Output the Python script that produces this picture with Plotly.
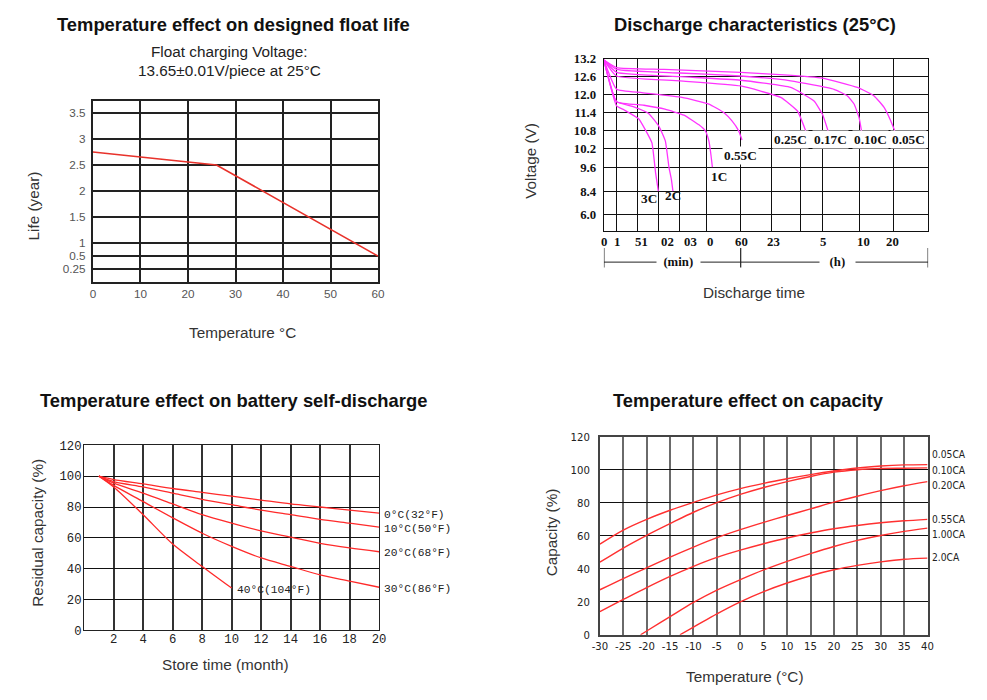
import plotly.graph_objects as go

W, H = 987, 700
# the photographed page shows the figure inside the browser's 8px body margin, shrunk to fit;
# layout positions below are given in target picture pixels and converted through this.
PAGE_M = 8
SX, SY = (W + 2 * PAGE_M) / W, (H + 2 * PAGE_M) / H
FS = 1.02  # font compensation for the shrink

# ---------------- Chart 1: float life ----------------
float_temp = [0, 26, 60]
float_life = [2.75, 2.5, 0.5]
life_ticks = [0.25, 0.5, 1, 1.5, 2, 2.5, 3, 3.5]
life_tick_labels = ["0.25", "0.5", "1", "1.5", "2", "2.5", "3", "3.5"]
float_x_ticks = [0, 10, 20, 30, 40, 50, 60]

# ---------------- Chart 2: discharge characteristics ----------------
volt_ticks = [13.2, 12.6, 12.0, 11.4, 10.8, 10.2, 9.6, 8.4, 6.0]
volt_tick_labels = ["13.2", "12.6", "12.0", "11.4", "10.8", "10.2", "9.6", "8.4", "6.0"]
time_grid = [0, 12.7, 33.4, 54.4, 76, 102.7, 136.7, 167, 196, 218.4, 255, 289.4, 324]
time_tick_pos = [0, 13.4, 37.4, 64, 86.7, 106, 137.4, 169.4, 219.4, 259.4, 288.4]
time_tick_labels = ["0", "1", "51", "02", "03", "0", "60", "23", "5", "10", "20"]

t_005 = [0, 12.7, 60, 136.7, 180, 218.4, 253.4, 270, 280, 286.7, 290.7]
v_005 = [13.15, 12.90, 12.84, 12.74, 12.66, 12.55, 12.24, 11.96, 11.58, 11.13, 10.80]
t_010 = [0, 12.7, 76, 136.7, 186.7, 230, 243.4, 250, 255, 257.4]
v_010 = [13.15, 12.84, 12.72, 12.62, 12.46, 12.18, 11.96, 11.69, 11.24, 10.80]
t_017 = [0, 12.7, 76, 136.7, 186.7, 210, 218.4, 224]
v_017 = [13.15, 12.74, 12.60, 12.48, 12.24, 11.79, 11.35, 10.80]
t_025 = [0, 12.7, 76, 136.7, 176.7, 193.4, 201.7]
v_025 = [13.15, 12.62, 12.46, 12.29, 11.91, 11.46, 10.80]
t_055 = [0, 12.7, 38, 78, 105, 120, 128, 134.7, 138]
v_055 = [13.15, 12.18, 12.07, 11.91, 11.69, 11.40, 11.13, 10.80, 10.50]
t_1c = [0, 12.7, 40, 61, 80, 95, 101.4, 105, 107, 108.4]
v_1c = [13.15, 11.77, 11.65, 11.52, 11.32, 11.0, 10.80, 10.45, 10.0, 9.60]
t_2c = [0, 12.7, 30, 44.7, 55, 61.4, 65, 67.4, 69]
v_2c = [13.15, 11.77, 11.6, 11.38, 10.95, 10.47, 9.6, 9.0, 8.40]
t_3c = [0, 12.7, 20, 34.7, 42, 48, 51.7, 54.4]
v_3c = [13.15, 11.63, 11.5, 11.2, 10.8, 10.4, 9.3, 8.40]
dis_series = [("0.05C", t_005, v_005), ("0.10C", t_010, v_010), ("0.17C", t_017, v_017),
              ("0.25C", t_025, v_025), ("0.55C", t_055, v_055), ("1C", t_1c, v_1c),
              ("2C", t_2c, v_2c), ("3C", t_3c, v_3c)]
dis_label_text = ["3C", "2C", "1C", "0.55C", "0.25C", "0.17C", "0.10C", "0.05C"]
dis_label_t = [44.7, 69.2, 114.7, 136.7, 186.7, 226.2, 266.9, 304.2]
dis_label_v = [7.62, 7.9, 9.15, 9.97, 10.52, 10.52, 10.52, 10.52]

# ---------------- Chart 3: self-discharge ----------------
sd_months = [1, 2, 4, 6, 8, 10, 12, 14, 16, 18, 20]
sd_0 = [100, 97.8, 95, 92, 89.5, 87, 84.5, 82, 80, 78, 76]
sd_10 = [100, 96.5, 93, 89, 85, 81.5, 78, 75, 72, 69.5, 67]
sd_20 = [100, 95.5, 89, 82, 75, 69.5, 64.5, 60.5, 56.5, 53.5, 51]
sd_30 = [100, 94, 83.5, 73, 63, 54.5, 47, 41.5, 36, 32, 28]
sd_40_months = [1, 2, 4, 6, 8, 10]
sd_40 = [100, 93, 75, 56, 41.5, 27.5]
sd_labels = ["0°C(32°F)", "10°C(50°F)", "20°C(68°F)", "30°C(86°F)", "40°C(104°F)"]
sd_x_ticks = [2, 4, 6, 8, 10, 12, 14, 16, 18, 20]

# ---------------- Chart 4: capacity vs temperature ----------------
cap_temp = [-30, -25, -20, -15, -10, -5, 0, 5, 10, 15, 20, 25, 30, 35, 40]
cap_tick_labels = ["-30", "-25", "-20", "-15", "-10", "-5", "0", "5", "10", "15", "20", "25", "30", "35", "40"]
cap_005 = [55, 63.5, 70, 75.5, 80.3, 84.8, 88.6, 91.8, 94.6, 97.1, 99.3, 101.1, 102.3, 103, 103.2]
cap_010 = [44, 52.6, 60.3, 67.4, 74.3, 80.1, 85.1, 89.3, 92.9, 96.0, 98.6, 100.1, 100.8, 101, 101.2]
cap_020 = [27.3, 34.1, 40.6, 47.1, 53.2, 58.9, 63.8, 68.2, 72.3, 76.3, 80.4, 84, 87.4, 90.4, 92.9]
cap_055 = [14.1, 21.4, 28.6, 35.4, 41.5, 46.9, 51.3, 55.2, 58.7, 61.7, 64.3, 66.3, 67.9, 69.1, 70]
cap_100_temp = [-21.3, -20, -15, -10, -5, 0, 5, 10, 15, 20, 25, 30, 35, 40]
cap_100 = [0, 2.3, 11, 19.6, 27.1, 33.4, 39.3, 44.5, 49.2, 53.5, 57.2, 60.2, 62.7, 64.7]
cap_200_temp = [-12.9, -10, -5, 0, 5, 10, 15, 20, 25, 30, 35, 40]
cap_200 = [0, 4.6, 12.7, 20.0, 26.2, 31.4, 35.8, 39.4, 42.1, 44.2, 45.8, 46.5]
cap_labels = ["0.05CA", "0.10CA", "0.20CA", "0.55CA", "1.00CA", "2.0CA"]
cap_label_y = [109.3, 99.7, 90.6, 69.8, 60.7, 46.6]


# ---------------- scale helpers (non-linear printed axes) ----------------
def life_to_axis(v):
    if v >= 1:
        return 3 + (v - 1) * 4
    if v >= 0.5:
        return 2 + (v - 0.5) * 2
    return 1 + (v - 0.25) * 4


def volt_to_axis(v):
    if v >= 9.6:
        return 3.54 + (v - 9.6) / 0.6
    if v >= 8.4:
        return 2.21 + (v - 8.4) / 1.2 * 1.33
    return 0.92 + (v - 6.0) / 2.4 * 1.29


def ppx(p):
    return (p * SX - PAGE_M) / W


def ppy(p):
    return 1 - (p * SY - PAGE_M) / H


def fs(s):
    return round(s * FS, 2)


SANS = "Liberation Sans, Arial, sans-serif"
SERIF = "Liberation Serif, Times New Roman, serif"
MONO = "Liberation Mono, DejaVu Sans Mono, monospace"
NARROW = "Liberation Sans Narrow, DejaVu Sans Condensed, Arial Narrow, sans-serif"

fig = go.Figure()

# chart 1
fig.add_trace(go.Scatter(x=float_temp, y=[life_to_axis(v) for v in float_life], xaxis="x", yaxis="y",
                         mode="lines", line=dict(color="#e8322b", width=1.6), hoverinfo="skip", showlegend=False))

# chart 2
for name, t, v in dis_series:
    fig.add_trace(go.Scatter(x=t, y=[volt_to_axis(a) for a in v], xaxis="x2", yaxis="y2", mode="lines",
                             line=dict(color="#ff33ff", width=1.3, shape="spline", smoothing=0.4),
                             hoverinfo="skip", showlegend=False, name=name))

# chart 3
for m, vals in [(sd_months, sd_0), (sd_months, sd_10), (sd_months, sd_20), (sd_months, sd_30), (sd_40_months, sd_40)]:
    fig.add_trace(go.Scatter(x=m, y=vals, xaxis="x3", yaxis="y3", mode="lines",
                             line=dict(color="#ff2a2a", width=1.3, shape="spline", smoothing=0.8),
                             hoverinfo="skip", showlegend=False))

# chart 4
for tt, vals in [(cap_temp, cap_005), (cap_temp, cap_010), (cap_temp, cap_020), (cap_temp, cap_055),
                 (cap_100_temp, cap_100), (cap_200_temp, cap_200)]:
    fig.add_trace(go.Scatter(x=tt, y=vals, xaxis="x4", yaxis="y4", mode="lines",
                             line=dict(color="#ff3030", width=1.4, shape="spline", smoothing=0.8),
                             hoverinfo="skip", showlegend=False))

base = dict(showline=True, mirror=True, zeroline=False, ticks="", showgrid=True, fixedrange=True)

layout = dict(
    width=W, height=H, margin=dict(l=0, r=0, t=0, b=0), autosize=False,
    paper_bgcolor="white", plot_bgcolor="white",
    xaxis=dict(base, domain=[ppx(92.7), ppx(377.7)], range=[0, 60], tickvals=float_x_ticks,
               gridcolor="#222", gridwidth=2, linecolor="#222", linewidth=2, anchor="y",
               tickfont=dict(family=SANS, size=fs(11.5), color="#555"), ticklabelstandoff=0),
    yaxis=dict(base, domain=[ppy(282.7), ppy(101.7)], range=[0, 13.92],
               tickvals=[life_to_axis(v) for v in life_ticks], ticktext=life_tick_labels,
               gridcolor="#222", gridwidth=2, linecolor="#222", linewidth=2, anchor="x",
               tickfont=dict(family=SANS, size=fs(11.5), color="#555"), ticklabelstandoff=3),
    xaxis2=dict(base, domain=[ppx(603.3), ppx(927.3)], range=[0, 324], tickvals=time_grid,
                showticklabels=False, gridcolor="#111", gridwidth=1.3, linecolor="#111", linewidth=1.3,
                anchor="y2"),
    yaxis2=dict(base, domain=[ppy(231.7), ppy(59.3)], range=[0, 9.54],
                tickvals=[volt_to_axis(v) for v in volt_ticks], ticktext=volt_tick_labels,
                gridcolor="#111", gridwidth=1.3, linecolor="#111", linewidth=1.3, anchor="x2",
                tickfont=dict(family=SERIF, size=fs(12.5), color="#111", weight="bold"), ticklabelstandoff=4),
    xaxis3=dict(base, domain=[ppx(84), ppx(378.7)], range=[0, 20], tickvals=sd_x_ticks,
                gridcolor="#333", gridwidth=1.5, linecolor="#222", linewidth=1.4, anchor="y3",
                tickfont=dict(family=MONO, size=fs(12), color="#222"), ticklabelstandoff=-3),
    yaxis3=dict(base, domain=[ppy(630.7), ppy(445.7)], range=[0, 120], dtick=20, tick0=0,
                gridcolor="#111", gridwidth=1.2, linecolor="#222", linewidth=1.4, anchor="x3",
                tickfont=dict(family=MONO, size=fs(12), color="#222"), ticklabelstandoff=-1),
    xaxis4=dict(base, domain=[ppx(599.3), ppx(926.7)], range=[-30, 40], tickvals=cap_temp,
                ticktext=cap_tick_labels,
                gridcolor="#6a6a6a", gridwidth=2, linecolor="#444", linewidth=1.6, anchor="y4",
                tickfont=dict(family=NARROW, size=fs(11), color="#222"), ticklabelstandoff=0),
    yaxis4=dict(base, domain=[ppy(635), ppy(437.3)], range=[0, 120], dtick=20, tick0=0,
                gridcolor="#111", gridwidth=1.2, linecolor="#444", linewidth=1.6, anchor="x4",
                tickfont=dict(family=NARROW, size=fs(11), color="#222"), ticklabelstandoff=6),
)
fig.update_layout(**layout)

ann = []


def txt(x, y, text, size=15, color="#222", family=SANS, xa="center", ya="middle", angle=0, **kw):
    d = dict(x=x, y=y, xref="paper", yref="paper", text=text, showarrow=False, xanchor=xa, yanchor=ya,
             font=dict(family=family, size=fs(size), color=color), textangle=angle)
    d.update(kw)
    ann.append(d)


# titles
txt(ppx(233.5), ppy(25), "<b>Temperature effect on designed float life</b>", size=18, color="#111")
txt(ppx(229), ppy(52), "Float charging Voltage:", size=15, color="#222")
txt(ppx(229), ppy(71), "13.65±0.01V/piece at 25°C", size=15, color="#222")
txt(ppx(241.7), ppy(333), "Temperature °C", size=15, color="#333")
txt(ppx(33), ppy(207), "Life (year)", size=15, color="#333", angle=-90)

txt(ppx(754), ppy(25), "<b>Discharge characteristics (25°C)</b>", size=18, color="#111")
txt(ppx(753), ppy(293), "Discharge time", size=15, color="#333")
txt(ppx(530), ppy(162), "Voltage (V)", size=15, color="#333", angle=-90)

txt(ppx(233.5), ppy(401), "<b>Temperature effect on battery self-discharge</b>", size=18, color="#111")
txt(ppx(225), ppy(665), "Store time (month)", size=15, color="#333")
txt(ppx(38), ppy(533), "Residual capacity (%)", size=15, color="#333", angle=-90)

txt(ppx(748), ppy(401), "<b>Temperature effect on capacity</b>", size=18, color="#111")
txt(ppx(744), ppy(677), "Temperature (°C)", size=15, color="#333")
txt(ppx(551), ppy(533), "Capacity (%)", size=15, color="#333", angle=-90)

# chart 2 printed time ticks
for pos, lab in zip(time_tick_pos, time_tick_labels):
    ann.append(dict(x=pos, y=ppy(242.5), xref="x2", yref="paper", text="<b>%s</b>" % lab, showarrow=False,
                    xanchor="center", yanchor="middle", font=dict(family=SERIF, size=fs(12.5), color="#111")))
# bracket labels
ann.append(dict(x=75, y=ppy(262.7), xref="x2", yref="paper", text="<b>  (min)  </b>", showarrow=False,
                xanchor="center", yanchor="middle", bgcolor="white", borderpad=0,
                font=dict(family=SERIF, size=fs(12.5), color="#111")))
ann.append(dict(x=233.4, y=ppy(262.7), xref="x2", yref="paper", text="<b>   (h)   </b>", showarrow=False,
                xanchor="center", yanchor="middle", bgcolor="white", borderpad=0,
                font=dict(family=SERIF, size=fs(12.5), color="#111")))
# discharge curve labels
for lab, t, v in zip(dis_label_text, dis_label_t, dis_label_v):
    d = dict(x=t, y=volt_to_axis(v), xref="x2", yref="y2", text="<b>%s</b>" % lab, showarrow=False,
             xanchor="center", yanchor="middle", borderpad=1,
             font=dict(family=SERIF, size=fs(13), color="#111"))
    if "." in lab:
        d["bgcolor"] = "white"
    ann.append(d)

# chart 3 labels
sd_ends = [(sd_months[-1], sd_0[-1]), (sd_months[-1], sd_10[-1]), (sd_months[-1], sd_20[-1]),
           (sd_months[-1], sd_30[-1]), (sd_40_months[-1], sd_40[-1])]
for lab, (xe, ye) in zip(sd_labels, sd_ends):
    ann.append(dict(x=xe, y=ye, xref="x3", yref="y3", text=lab, showarrow=False, xanchor="left",
                    yanchor="middle", xshift=3, yshift=-1.5,
                    font=dict(family=MONO, size=fs(11), color="#222")))

# chart 4 labels
for lab, yv in zip(cap_labels, cap_label_y):
    ann.append(dict(x=40, y=yv, xref="x4", yref="y4", text=lab, showarrow=False, xanchor="left",
                    yanchor="middle", xshift=2,
                    font=dict(family=NARROW, size=fs(10), color="#222")))

shapes = []
br_y = ppy(262.7)
shapes.append(dict(type="line", xref="x2", yref="paper", x0=time_grid[0], x1=time_grid[-1], y0=br_y, y1=br_y,
                   line=dict(color="#222", width=1), layer="below"))
for xv in [time_grid[0], time_grid[6], time_grid[-1]]:
    shapes.append(dict(type="line", xref="x2", yref="paper", x0=xv, x1=xv, y0=ppy(248.5), y1=ppy(268),
                       line=dict(color="#222", width=1.2)))

fig.update_layout(annotations=ann, shapes=shapes)
fig.write_html("out.html")
